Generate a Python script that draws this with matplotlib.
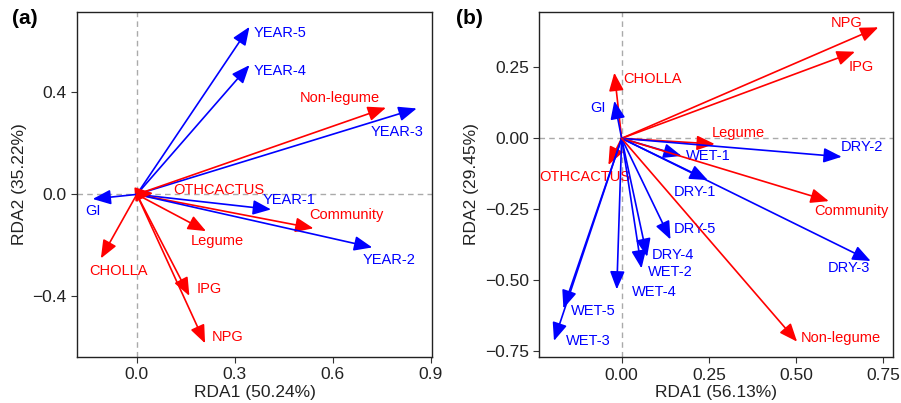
import matplotlib
matplotlib.use('Agg')
import matplotlib.pyplot as plt
from matplotlib.ticker import FuncFormatter

plt.rcParams.update({
    'font.family': ['Liberation Sans', 'DejaVu Sans'],
    'axes.unicode_minus': True,
    'savefig.dpi': 100,
    'figure.dpi': 100
})

# ---- panel (a) data: RDA biplot scores ----
vars_a = ['YEAR-5', 'YEAR-4', 'YEAR-3', 'Non-legume', 'YEAR-1', 'Community', 'YEAR-2',
          'Legume', 'OTHCACTUS', 'GI', 'CHOLLA', 'IPG', 'NPG']
rda1_a = [0.345, 0.345, 0.857, 0.763, 0.411, 0.541, 0.721, 0.212, 0.050, -0.135, -0.110, 0.161, 0.209]
rda2_a = [0.657, 0.507, 0.337, 0.340, -0.059, -0.133, -0.208, -0.144, 0.005, -0.018, -0.251, -0.398, -0.584]
env_a = ['YEAR-1', 'YEAR-2', 'YEAR-3', 'YEAR-4', 'YEAR-5', 'GI']

# ---- panel (b) data ----
vars_b = ['NPG', 'IPG', 'CHOLLA', 'GI', 'Legume', 'OTHCACTUS', 'WET-1', 'DRY-2', 'DRY-1',
          'Community', 'DRY-3', 'DRY-5', 'DRY-4', 'WET-2', 'WET-4', 'WET-5', 'WET-3', 'Non-legume']
rda1_b = [0.736, 0.669, -0.021, -0.021, 0.267, -0.038, 0.172, 0.631, 0.247,
          0.594, 0.714, 0.140, 0.073, 0.057, -0.014, -0.167, -0.194, 0.503]
rda2_b = [0.391, 0.305, 0.231, 0.132, -0.020, -0.094, -0.062, -0.065, -0.147,
          -0.221, -0.432, -0.356, -0.417, -0.458, -0.532, -0.599, -0.713, -0.716]
env_b = ['GI', 'WET-1', 'WET-2', 'WET-3', 'WET-4', 'WET-5',
         'DRY-1', 'DRY-2', 'DRY-3', 'DRY-4', 'DRY-5']

# label offsets from arrow tips (points)
offs_a = {'YEAR-5': (22, -4.5), 'YEAR-4': (22, -4.3), 'YEAR-3': (-14, -17), 'Non-legume': (-33, 7),
          'YEAR-1': (13, 7), 'Community': (24, 9.6), 'YEAR-2': (12, -9), 'Legume': (8, -7),
          'OTHCACTUS': (47, 2), 'GI': (0, -9), 'CHOLLA': (12.5, -9), 'IPG': (14, 4.6), 'NPG': (16.5, 4.8)}
offs_b = {'NPG': (-22.8, 2.9), 'IPG': (4.8, -10.8), 'CHOLLA': (27.4, -4.8), 'GI': (-12, -5.5),
          'Legume': (16.8, 7.7), 'OTHCACTUS': (-16.8, -8.4), 'WET-1': (19.2, 0), 'DRY-2': (14.4, 7.2),
          'DRY-1': (-9.6, -8.4), 'Community': (16.3, -7), 'DRY-3': (-15.6, -5.3), 'DRY-5': (17.5, 7.2),
          'DRY-4': (18.3, 1.2), 'WET-2': (20.4, -2.9), 'WET-4': (27, -2.2), 'WET-5': (21.2, -1.7),
          'WET-3': (24.7, 0), 'Non-legume': (31.2, 2.4)}

BLUE = '#0000FF'
RED = '#FF0000'


def fmt(nd):
    return FuncFormatter(lambda v, p: ('%.*f' % (nd, v)).replace('-', '\u2212') if abs(v) > 1e-9 else '%.*f' % (nd, 0))


def biplot(ax, names, xs, ys, env, offs, xlim, ylim, xticks, yticks, nd, xlab, ylab):
    ax.axhline(0, color='#aaaaaa', ls=(0, (4, 3)), lw=1, zorder=0)
    ax.axvline(0, color='#aaaaaa', ls=(0, (4, 3)), lw=1, zorder=0)
    for n, x, y in zip(names, xs, ys):
        c = BLUE if n in env else RED
        ax.annotate('', xy=(x, y), xytext=(0, 0),
                    arrowprops=dict(arrowstyle='-|>,head_length=1.1,head_width=0.45',
                                    color=c, lw=1.2, shrinkA=0, shrinkB=0, mutation_scale=10))
        dx, dy = offs[n]
        ax.annotate(n, xy=(x, y), xytext=(dx, dy), textcoords='offset points',
                    ha='center', va='center', color=c, fontsize=10.5)
    ax.set_xlim(xlim)
    ax.set_ylim(ylim)
    ax.set_xticks(xticks)
    ax.set_yticks(yticks)
    ax.xaxis.set_major_formatter(fmt(nd))
    ax.yaxis.set_major_formatter(fmt(nd))
    ax.tick_params(labelsize=12.5, length=4, width=0.8, color='#333333', labelcolor='#222222')
    ax.set_xlabel(xlab, fontsize=12.5, labelpad=2, color='#222222')
    ax.set_ylabel(ylab, fontsize=12.5, labelpad=4, color='#222222')
    for s in ax.spines.values():
        s.set_color('#222222')
        s.set_linewidth(1.0)


fig = plt.figure(figsize=(9.01, 4.03))
ax1 = fig.add_axes([0.0855, 0.114, 0.394, 0.856])
ax2 = fig.add_axes([0.5986, 0.1134, 0.3929, 0.8576])

biplot(ax1, vars_a, rda1_a, rda2_a, env_a, offs_a, (-0.183, 0.904), (-0.638, 0.715),
       [0.0, 0.3, 0.6, 0.9], [-0.4, 0.0, 0.4], 1, 'RDA1 (50.24%)', 'RDA2 (35.22%)')
biplot(ax2, vars_b, rda1_b, rda2_b, env_b, offs_b, (-0.236, 0.779), (-0.771, 0.446),
       [0.0, 0.25, 0.5, 0.75], [-0.75, -0.5, -0.25, 0.0, 0.25], 2,
       'RDA1 (56.13%)', 'RDA2 (29.45%)')

fig.text(0.013, 0.977, '(a)', fontsize=15, fontweight='bold', ha='left', va='top')
fig.text(0.506, 0.977, '(b)', fontsize=15, fontweight='bold', ha='left', va='top')

plt.savefig('out.png')
